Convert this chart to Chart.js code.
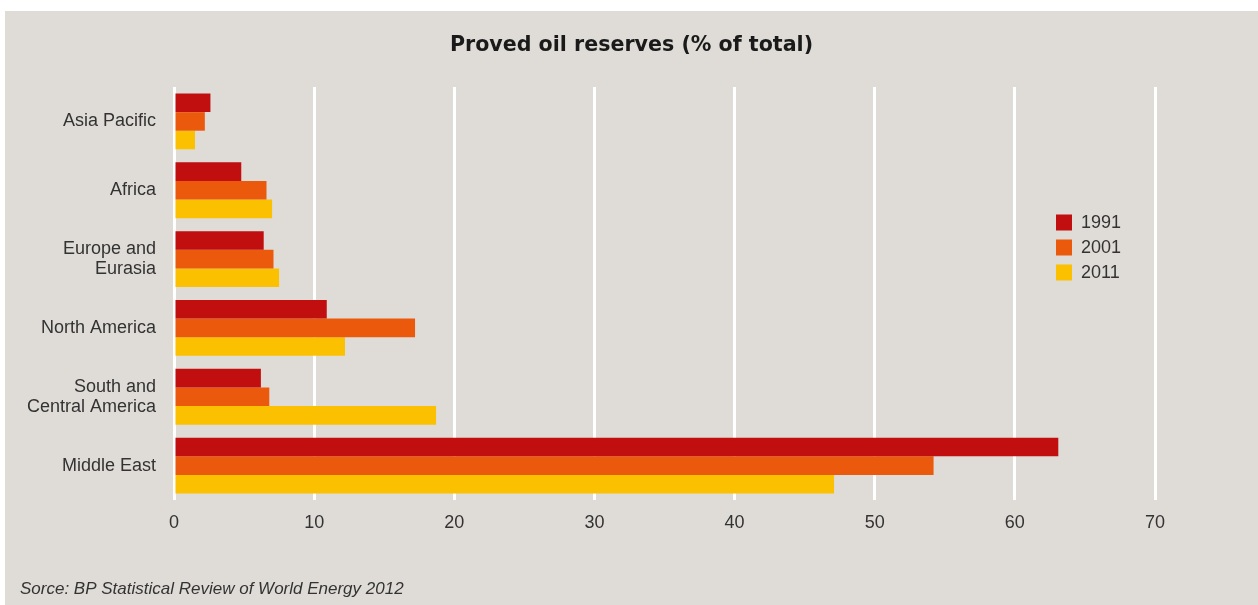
<!DOCTYPE html>
<html>
<head>
<meta charset="utf-8">
<script src="https://cdn.jsdelivr.net/npm/chart.js@4.4.1/dist/chart.umd.min.js"></script>
<style>
  html, body { margin: 0; padding: 0; background: #ffffff; }
  #wrap { position: absolute; left: 5px; top: 11px; width: 1253px; height: 594px; background: #dfdcd8; }
  canvas { display: block; }
</style>
</head>
<body>
<div id="wrap"><canvas id="c" width="1253" height="594"></canvas></div>
<script>
const categories = ["Asia Pacific", ["Africa"], ["Europe and", "Eurasia"], "North America", ["South and", "Central America"], "Middle East"];
const seriesNames = ["1991", "2001", "2011"];
const values1991 = [2.6, 4.8, 6.4, 10.9, 6.2, 63.1];
const values2001 = [2.2, 6.6, 7.1, 17.2, 6.8, 54.2];
const values2011 = [1.5, 7.0, 7.5, 12.2, 18.7, 47.1];
const xTicks = [0, 10, 20, 30, 40, 50, 60, 70];
const colors = ["#c10e0e", "#eb5a0c", "#fbc000"];
const chartTitle = 'Proved oil reserves (% of total)';
const sourceNote = 'Sorce: BP Statistical Review of World Energy 2012';

const textColor = "#333333";
const fontFamily = "'Liberation Sans', Arial, sans-serif";

const titleAndLegend = {
  id: 'titleAndLegend',
  afterDraw(chart) {
    const ctx = chart.ctx;
    const area = chart.chartArea;
    ctx.save();
    // title centred on the whole panel
    ctx.font = "bold 20.6px 'DejaVu Sans', sans-serif";
    ctx.fillStyle = '#1a1a1a';
    ctx.textAlign = 'center';
    ctx.textBaseline = 'middle';
    ctx.fillText(chartTitle, chart.width / 2, 35);
    // legend inside the plot
    const x0 = area.right - 99;
    const yMid = (area.top + area.bottom) / 2 - 46;
    ctx.font = "18px " + fontFamily;
    ctx.textAlign = "left";
    chart.data.datasets.forEach((ds, i) => {
      const cy = yMid + (i - 1) * 25;
      ctx.fillStyle = ds.backgroundColor;
      ctx.fillRect(x0, cy - 8, 16, 16);
      ctx.fillStyle = textColor;
      ctx.fillText(ds.label, x0 + 25, cy + 1);
    });
    ctx.restore();
  }
};

new Chart(document.getElementById('c'), {
  type: 'bar',
  data: {
    labels: categories,
    datasets: [
      { label: seriesNames[0], data: values1991, backgroundColor: colors[0] },
      { label: seriesNames[1], data: values2001, backgroundColor: colors[1] },
      { label: seriesNames[2], data: values2011, backgroundColor: colors[2] }
    ]
  },
  options: {
    indexAxis: 'y',
    responsive: false,
    animation: false,
    devicePixelRatio: 1,
    layout: { padding: { left: 15, right: 103, top: 76, bottom: 0 } },
    datasets: { bar: { categoryPercentage: 0.81, barPercentage: 1.0, borderWidth: 0 } },
    scales: {
      x: {
        min: 0, max: 70,
        afterBuildTicks(scale) { scale.ticks = xTicks.map(v => ({ value: v })); },
        grid: { color: '#ffffff', lineWidth: 3, drawTicks: false, tickLength: 0 },
        border: { display: false },
        ticks: { color: textColor, font: { family: fontFamily, size: 18 }, padding: 12 }
      },
      y: {
        afterFit(scale) { scale.width = 154; },
        grid: { display: false, drawTicks: false, tickLength: 0 },
        border: { display: false },
        ticks: { color: textColor, font: { family: fontFamily, size: 18, lineHeight: 1.1 }, padding: 18 }
      }
    },
    plugins: {
      legend: { display: false },
      tooltip: { enabled: false },
      title: { display: false },
      subtitle: {
        display: true,
        position: 'bottom',
        align: 'start',
        text: sourceNote,
        color: textColor,
        font: { family: fontFamily, size: 17, style: 'italic', lineHeight: 1.2 },
        padding: { top: 33, bottom: 6 }
      }
    }
  },
  plugins: [titleAndLegend]
});
</script>
</body>
</html>
